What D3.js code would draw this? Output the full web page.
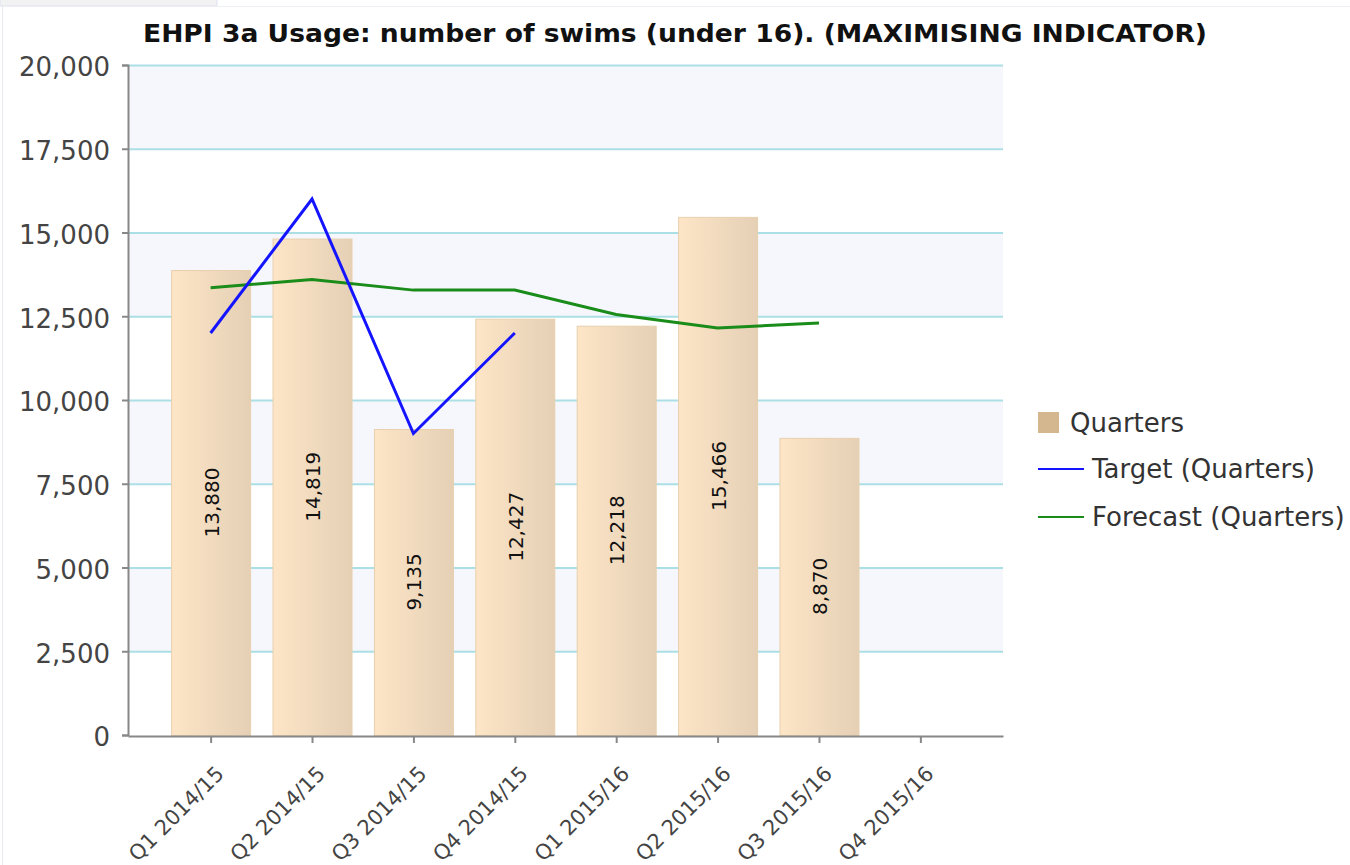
<!DOCTYPE html>
<html>
<head>
<meta charset="utf-8">
<script src="https://cdn.jsdelivr.net/npm/d3@7/dist/d3.min.js"></script>
<style>
  body { margin: 0; background: #fff; }
  text { font-family: "DejaVu Sans", Verdana, sans-serif; }
</style>
</head>
<body>
<div id="chart"></div>
<script>
const categories = ["Q1 2014/15", "Q2 2014/15", "Q3 2014/15", "Q4 2014/15",
                    "Q1 2015/16", "Q2 2015/16", "Q3 2015/16", "Q4 2015/16"];
const quarters = [13880, 14819, 9135, 12427, 12218, 15466, 8870, null];
const target = [12000, 16000, 9000, 12000, null, null, null, null];
const forecast = [13350, 13600, 13280, 13280, 12550, 12150, 12300, null];
const yTicks = [0, 2500, 5000, 7500, 10000, 12500, 15000, 17500, 20000];

const width = 1350, height = 865;
const plot = {left: 128, right: 1003, top: 65, bottom: 735};

const svg = d3.select("#chart").append("svg")
    .attr("width", width)
    .attr("height", height);

// page frame bits
svg.append("rect").attr("x", 0).attr("y", -1).attr("width", 217).attr("height", 7)
    .attr("fill", "#f2f2f2").attr("stroke", "#e0e0f0");
svg.append("line").attr("x1", 217).attr("x2", width).attr("y1", 6.5).attr("y2", 6.5)
    .attr("stroke", "#eeeef6");
svg.append("line").attr("x1", 2.5).attr("x2", 2.5).attr("y1", 6).attr("y2", height)
    .attr("stroke", "#e8e8ee");

const defs = svg.append("defs");
const grad = defs.append("linearGradient").attr("id", "barGrad")
    .attr("x1", "0%").attr("x2", "100%").attr("y1", "0%").attr("y2", "0%");
grad.append("stop").attr("offset", "0%").attr("stop-color", "#fde5c6");
grad.append("stop").attr("offset", "100%").attr("stop-color", "#e5d0b6");

const x = d3.scalePoint().domain(categories).range([plot.left, plot.right]).padding(0.815);
const y = d3.scaleLinear().domain([0, 20000]).range([plot.bottom, plot.top]);
const barW = 79;

// alternating bands
const bands = d3.pairs(yTicks).filter((d, i) => i % 2 === 1);
svg.append("g").selectAll("rect")
    .data(bands)
    .enter().append("rect")
    .attr("x", plot.left)
    .attr("width", plot.right - plot.left)
    .attr("y", d => y(d[1]))
    .attr("height", d => y(d[0]) - y(d[1]))
    .attr("fill", "#f6f7fd");

// gridlines
svg.append("g").selectAll("line")
    .data(yTicks.filter(d => d > 0))
    .enter().append("line")
    .attr("x1", plot.left).attr("x2", plot.right)
    .attr("y1", d => y(d) + 0.5).attr("y2", d => y(d) + 0.5)
    .attr("stroke", "#abdfe6").attr("stroke-width", 2);

// bars
const barData = categories.map((c, i) => ({cat: c, v: quarters[i]})).filter(d => d.v != null);
const bars = svg.append("g").selectAll(".bar")
    .data(barData)
    .enter().append("g")
    .attr("class", "bar");

bars.append("rect")
    .attr("x", d => x(d.cat) - barW / 2 + 0.5)
    .attr("width", barW)
    .attr("y", d => y(d.v) + 0.5)
    .attr("height", d => y(0) - y(d.v))
    .attr("fill", "url(#barGrad)")
    .attr("stroke", "#e8d0ae")
    .attr("stroke-width", 1);

bars.append("text")
    .attr("transform", d => `translate(${x(d.cat) + 8},${(y(d.v) + y(0)) / 2}) rotate(-90)`)
    .attr("text-anchor", "middle")
    .attr("font-size", 20)
    .attr("fill", "#111")
    .text(d => d3.format(",")(d.v));

// lines
const lineGen = d3.line()
    .defined(d => d.v != null)
    .x(d => x(d.cat))
    .y(d => y(d.v));

svg.append("path")
    .datum(categories.map((c, i) => ({cat: c, v: forecast[i]})))
    .attr("d", lineGen)
    .attr("fill", "none")
    .attr("stroke", "#1a8c1a")
    .attr("stroke-width", 3);

svg.append("path")
    .datum(categories.map((c, i) => ({cat: c, v: target[i]})))
    .attr("d", lineGen)
    .attr("fill", "none")
    .attr("stroke", "#1414ff")
    .attr("stroke-width", 3);

// y axis
const yAxis = svg.append("g")
    .attr("transform", `translate(${plot.left},0)`)
    .call(d3.axisLeft(y).tickValues(yTicks).tickFormat(d3.format(",")).tickSize(6).tickPadding(12));
yAxis.select(".domain").attr("stroke", "#888").attr("stroke-width", 2);
yAxis.selectAll(".tick line").attr("stroke", "#888").attr("stroke-width", 2);
yAxis.selectAll(".tick text")
    .attr("font-size", 26)
    .attr("fill", "#444")
    .attr("dy", "0.42em")
    .attr("font-family", "DejaVu Sans, sans-serif");

// x axis
const xAxis = svg.append("g")
    .attr("transform", `translate(0,${plot.bottom + 1})`)
    .call(d3.axisBottom(x).tickSize(7).tickSizeOuter(0));
xAxis.select(".domain").attr("stroke", "#888").attr("stroke-width", 2);
xAxis.selectAll(".tick line").attr("stroke", "#888").attr("stroke-width", 2);
xAxis.selectAll(".tick text")
    .attr("font-size", 21)
    .attr("fill", "#444")
    .attr("font-family", "DejaVu Sans, sans-serif")
    .attr("text-anchor", "end")
    .attr("y", 0)
    .attr("dy", 0)
    .attr("transform", "translate(14,39) rotate(-45)");

// title
svg.append("text")
    .attr("x", 675)
    .attr("y", 42)
    .attr("text-anchor", "middle")
    .attr("font-size", 24)
    .attr("font-weight", "bold")
    .attr("fill", "#111")
    .attr("textLength", 1064)
    .attr("lengthAdjust", "spacingAndGlyphs")
    .text("EHPI 3a Usage: number of swims (under 16). (MAXIMISING INDICATOR)");

// legend
const legend = svg.append("g").attr("transform", "translate(1038,0)");
legend.append("rect")
    .attr("x", 0).attr("y", 412).attr("width", 21).attr("height", 21)
    .attr("fill", "#d4b78f");
legend.append("text")
    .attr("x", 32).attr("y", 423).attr("dy", "0.35em")
    .attr("font-size", 26).attr("fill", "#333")
    .text("Quarters");

const legendLines = [
    {label: "Target (Quarters)", color: "#1414ff", y: 469},
    {label: "Forecast (Quarters)", color: "#1a8c1a", y: 517}
];
legend.selectAll(".leg-line")
    .data(legendLines)
    .enter().append("g")
    .attr("class", "leg-line")
    .each(function(d) {
        d3.select(this).append("line")
            .attr("x1", 0).attr("x2", 46)
            .attr("y1", d.y).attr("y2", d.y)
            .attr("stroke", d.color).attr("stroke-width", 2);
        d3.select(this).append("text")
            .attr("x", 54).attr("y", d.y).attr("dy", "0.35em")
            .attr("font-size", 26).attr("fill", "#333")
            .text(d.label);
    });
</script>
</body>
</html>
